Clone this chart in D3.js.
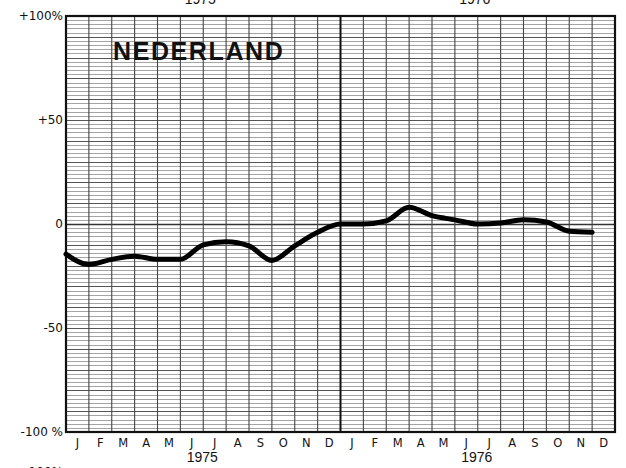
<!DOCTYPE html>
<html>
<head>
<meta charset="utf-8">
<script src="https://cdn.jsdelivr.net/npm/d3@7"></script>
<style>
html,body{margin:0;padding:0;background:#fff;}
svg{display:block;}
text{font-family:"Liberation Sans",Arial,sans-serif;fill:#111;}
</style>
</head>
<body>
<svg id="c" width="626" height="468"></svg>
<script>
const months = ["J","F","M","A","M","J","J","A","S","O","N","D"];
const years = ["1975","1976"];
const values1975 = [-14.5,-19.5,-17,-15.5,-17,-17,-10,-8.5,-10.5,-17.5,-10.5,-4];
const values1976 = [0,0,1.5,8,4,2,0,0.5,2,1,-3.5,-4];
const yTicks = [100,50,0,-50,-100];
const yTickLabels = ["+100%","+50","0","-50","-100 %"];
const title = "NEDERLAND";

const svg = d3.select("#c");
const L = 66, R = 615, T = 16, B = 432;
const nMonths = months.length * years.length;
const x = d3.scaleLinear().domain([0, nMonths]).range([L, R]);
const y = d3.scaleLinear().domain([-100, 100]).range([B, T]);

const data = values1975.concat(values1976).map((v,i)=>({i, v}));

// fine horizontal grid every 2%
const fine = d3.range(-98, 100, 2).filter(d => d % 10 !== 0);
svg.append("g").selectAll("line").data(fine).join("line")
  .attr("x1", L).attr("x2", R)
  .attr("y1", d => Math.round(y(d))+0.5).attr("y2", d => Math.round(y(d))+0.5)
  .attr("stroke", "#9a9a9a").attr("stroke-width", 0.9);
// major horizontal every 10%
const major = d3.range(-90, 100, 10);
svg.append("g").selectAll("line").data(major).join("line")
  .attr("x1", L).attr("x2", R)
  .attr("y1", d => Math.round(y(d))+0.5).attr("y2", d => Math.round(y(d))+0.5)
  .attr("stroke", d => d === 0 ? "#333" : "#555").attr("stroke-width", d => d === 0 ? 1.4 : 1.1);
// vertical month lines
svg.append("g").selectAll("line").data(d3.range(1, nMonths)).join("line")
  .attr("x1", d => x(d)).attr("x2", d => x(d))
  .attr("y1", T).attr("y2", B)
  .attr("stroke", d => d === 12 ? "#111" : "#444").attr("stroke-width", d => d === 12 ? 2 : 1.1);
// frame
svg.append("rect").attr("x", L).attr("y", T).attr("width", R-L).attr("height", B-T)
  .attr("fill", "none").attr("stroke", "#111").attr("stroke-width", 2.2);

// title
svg.append("text").attr("x", 113).attr("y", 60).text(title)
  .style("font-weight", "bold").style("font-size", "25px").style("letter-spacing", "1.6px")
  .style("font-family", "'Liberation Sans',Arial,sans-serif");

// y labels
svg.append("g").selectAll("text").data(yTicks).join("text")
  .attr("x", 63).attr("y", d => y(d) + 4)
  .attr("text-anchor", "end")
  .style("font-size", "12px")
  .style("font-family", "'DejaVu Sans',sans-serif")
  .text((d,i) => yTickLabels[i]);

// month labels
const monthLabels = d3.range(nMonths).map(i => ({i, m: months[i % 12]}));
svg.append("g").selectAll("text").data(monthLabels).join("text")
  .attr("x", d => x(d.i + 0.5)).attr("y", 447)
  .attr("text-anchor", "middle")
  .style("font-size", "11.5px")
  .style("font-family", "'DejaVu Sans',sans-serif")
  .text(d => d.m);

// year labels bottom and top
svg.append("g").selectAll("text").data(years).join("text")
  .attr("x", (d,i) => x(i*12 + 6) - 1).attr("y", 462)
  .attr("text-anchor", "middle").style("font-size", "14px")
  .text(d => d);
svg.append("g").selectAll("text").data(years).join("text")
  .attr("x", (d,i) => x(i*12 + 6) - 3).attr("y", 4)
  .attr("text-anchor", "middle").style("font-size", "14px")
  .text(d => d);
// partial label of next chart
svg.append("text").attr("x", 63).attr("y", 476).attr("text-anchor", "end")
  .style("font-size", "12px").style("font-family", "'DejaVu Sans',sans-serif").text("+100%");

// data line
const line = d3.line().x(d => x(d.i)).y(d => y(d.v)).curve(d3.curveMonotoneX);
svg.append("path").datum(data).attr("d", line)
  .attr("fill", "none").attr("stroke", "#000").attr("stroke-width", 5)
  .attr("stroke-linejoin", "round").attr("stroke-linecap", "round");
</script>
</body>
</html>
